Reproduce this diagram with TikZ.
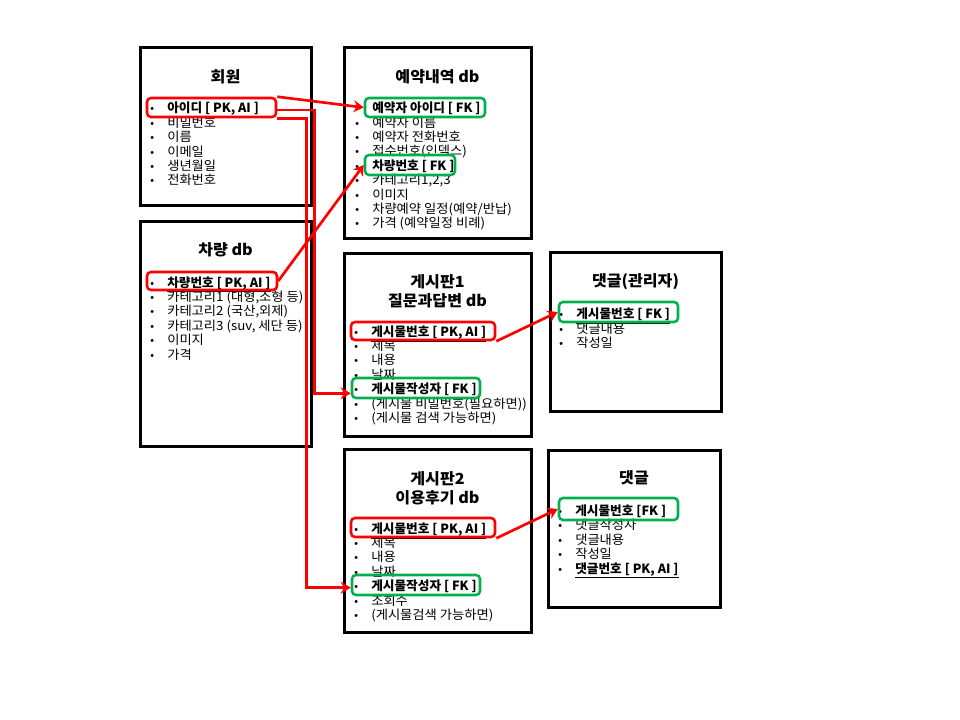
\documentclass[tikz,border=0pt]{standalone}
\usepackage{fontspec}
\setmainfont{Noto Sans CJK KR}[FakeStretch=1.05]
\newfontfamily\keyfont{Noto Sans CJK KR}
\newfontfamily\bulfont{Liberation Sans}
\usetikzlibrary{arrows.meta, fit}
\definecolor{keyred}{RGB}{255,0,0}
\definecolor{keygreen}{RGB}{0,176,80}
\newcommand{\bul}{\makebox[12.75pt][l]{\bulfont\footnotesize\textbullet}}
\newcommand{\key}[1]{{\keyfont\bfseries\raisebox{0pt}[0pt][0pt]{\underline{#1}}}}

\begin{document}
\begin{tikzpicture}[x=0.75pt, y=-0.75pt,
    tbl/.style={draw, line width=2.25pt, inner sep=0pt},
    ttl/.style={font=\bfseries\fontsize{11.5}{14.6}\selectfont, align=center},
    items/.style={anchor=base west, inner sep=0pt, align=left, font=\fontsize{9.5}{10.8}\selectfont},
    pk/.style={draw=keyred, line width=1.9pt, rounded corners=3pt, inner sep=0pt},
    fk/.style={pk, draw=keygreen},
    link/.style={draw=keyred, line width=2pt, -{Stealth[length=7.5pt, width=9pt]}}]
    \useasboundingbox (0,0) rectangle (960,720);
    % Tables
    \node[tbl, fit={(140,48) (311,206)}] (member) {};
    \node[tbl, fit={(344,48) (531,239)}] (resv) {};
    \node[tbl, fit={(140,222) (311,446)}] (car) {};
    \node[tbl, fit={(344,254) (531,436)}] (board1) {};
    \node[tbl, fit={(550,253) (721,411)}] (reply1) {};
    \node[tbl, fit={(344,449) (531,632)}] (board2) {};
    \node[tbl, fit={(548,450) (720,607)}] (reply2) {};
    % Titles
    \node[ttl] (memberT) at (225.5,77) {회원};
    \node[ttl] (resvT) at (437.5,77) {예약내역 db};
    \node[ttl] (carT) at (225.5,250) {차량 db};
    \node[ttl] (board1T) at (437.5,291) {게시판1\\질문과답변 db};
    \node[ttl] (reply1T) at (635.5,282) {댓글(관리자)};
    \node[ttl] (board2T) at (437.5,488) {게시판2\\이용후기 db};
    \node[ttl] (reply2T) at (634,478) {댓글};
    % Columns (placed by the baseline of the last line)
    \node[items] (memberL) at (150,185) {\bul\key{아이디 [ PK, AI ]}\\ \bul 비밀번호\\ \bul 이름\\ \bul 이메일\\ \bul 생년월일\\ \bul 전화번호};
    \node[items] (resvL) at (355,228) {\bul\key{예약자 아이디 [ FK ]}\\ \bul 예약자 이름\\ \bul 예약자 전화번호\\ \bul 접수번호(인덱스)\\ \bul\key{차량번호 [ FK ]}\\ \bul 카테고리1,2,3\\ \bul 이미지\\ \bul 차량예약 일정(예약/반납)\\ \bul 가격 (예약일정 비례)};
    \node[items] (carL) at (150,359) {\bul\key{차량번호 [ PK, AI ]}\\ \bul 카테고리1 (대형,소형 등)\\ \bul 카테고리2 (국산,외제)\\ \bul 카테고리3 (suv, 세단 등)\\ \bul 이미지\\ \bul 가격};
    \node[items] (board1L) at (354,422.5) {\bul\key{게시물번호 [ PK, AI ]}\\ \bul 제목\\ \bul 내용\\ \bul 날짜\\ \bul\key{게시물작성자 [ FK ]}\\ \bul (게시물 비밀번호(필요하면))\\ \bul (게시물 검색 가능하면)};
    \node[items] (reply1L) at (559,347.5) {\bul\key{게시물번호 [ FK ]}\\ \bul 댓글내용\\ \bul 작성일};
    \node[items] (board2L) at (354,619.5) {\bul\key{게시물번호 [ PK, AI ]}\\ \bul 제목\\ \bul 내용\\ \bul 날짜\\ \bul\key{게시물작성자 [ FK ]}\\ \bul 조회수\\ \bul (게시물검색 가능하면)};
    \node[items] (reply2L) at (558,573) {\bul\key{게시물번호 [FK ]}\\ \bul 댓글작성자\\ \bul 댓글내용\\ \bul 작성일\\ \bul\key{댓글번호 [ PK, AI ]}};
    % Keys
    \node[pk, fit={(147,98) (276,117)}] (memberId) {};
    \node[fk, fit={(365,98) (485,117)}] (resvId) {};
    \node[fk, fit={(365,155) (455,175)}] (resvCar) {};
    \node[pk, fit={(147,272) (277,290)}] (carId) {};
    \node[pk, fit={(351,322) (495,340)}] (post1Id) {};
    \node[fk, fit={(352,378) (480,398)}] (post1Writer) {};
    \node[fk, fit={(559,302) (678,322)}] (reply1Post) {};
    \node[pk, fit={(351,518) (495,537)}] (post2Id) {};
    \node[fk, fit={(352,575) (480,595)}] (post2Writer) {};
    \node[fk, fit={(559,498) (678,520)}] (reply2Post) {};
    % Arrows
    \draw[link] (memberId.north east) -- (resvId.west);
    \draw[link] ([yshift=-2pt]memberId.east) -- ++(37,0) |- ([yshift=-4pt]post1Writer.west);
    \draw[link] (memberId.south east) -- ++(29,0) |- ([yshift=-2pt]post2Writer.west);
    \draw[link] (carId.east) -- (resvCar.west);
    \draw[link] (post1Id.south east) -- (reply1Post.west);
    \draw[link] (post2Id.south east) -- (reply2Post.west);
\end{tikzpicture}
\end{document}
